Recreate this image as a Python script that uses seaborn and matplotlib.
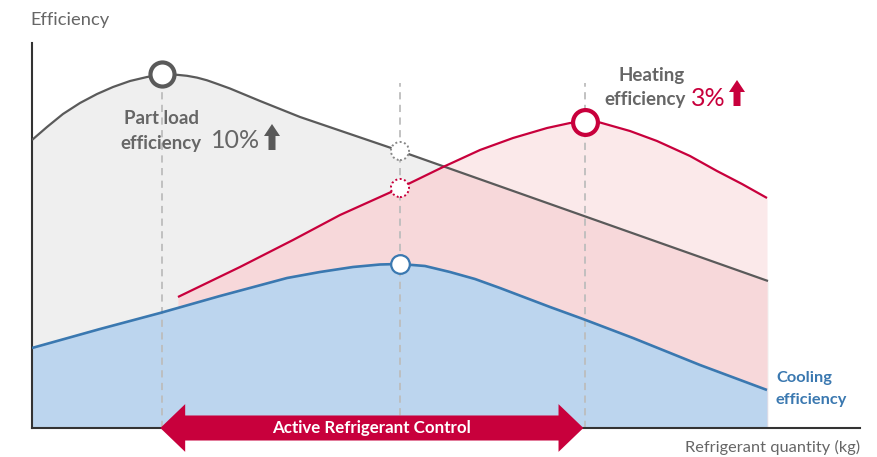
import numpy as np
import pandas as pd
import matplotlib
matplotlib.use("Agg")
import matplotlib.pyplot as plt
from matplotlib.patches import Polygon
import seaborn as sns

# ---------------- data (x: refrigerant quantity, y: efficiency, 0-100 scale) -------------
part_x = [0, 1.81, 3.74, 5.80, 7.85, 9.78, 11.84, 13.89, 15.70, 17.51, 18.72, 19.93, 21.14,
          22.34, 23.91, 27.54, 32.37, 38.41, 44.44, 88.89]
part_y = [74.81, 78.18, 81.56, 84.42, 86.75, 88.57, 90.13, 91.17, 91.82, 91.74, 91.48, 91.01,
          90.31, 89.40, 88.18, 84.94, 80.78, 76.36, 71.95, 38.18]

heat_x = [17.63, 25.12, 31.52, 37.20, 44.44, 49.64, 54.11, 58.09, 62.20, 64.98, 66.79, 68.60,
          72.22, 75.48, 79.47, 82.73, 85.75, 88.77]
heat_y = [34.03, 41.82, 48.83, 55.32, 62.34, 67.79, 72.21, 75.32, 77.92, 79.22, 79.48, 79.35,
          77.14, 74.55, 70.65, 66.75, 63.38, 59.74]

cool_x = [0, 8.21, 15.46, 22.71, 30.80, 34.78, 38.77, 42.03, 44.44, 47.46, 50.48, 53.50, 56.52,
          62.56, 66.55, 72.58, 80.68, 88.77]
cool_y = [20.78, 25.71, 29.87, 34.29, 38.96, 40.52, 41.82, 42.47, 42.60, 42.08, 40.52, 38.70,
          36.36, 31.43, 28.31, 23.38, 16.36, 9.87]

# highlighted points
peak_part = (15.70, 91.82)
peak_heat = (66.79, 79.48)
mid_x = 44.44
mid_part_y = 71.95
mid_heat_y = 62.34
mid_cool_y = 42.60
guide_top = 89.6

labels = {
    "ylabel": "Efficiency",
    "xlabel": "Refrigerant quantity (kg)",
    "part": ["Part load", "efficiency"],
    "part_pct": "10%",
    "heat": ["Heating", "efficiency"],
    "heat_pct": "3%",
    "cool": ["Cooling", "efficiency"],
    "arc": "Active Refrigerant Control",
}

# ---------------- colours ----------------
GRAY_LINE = "#5a5a5a"
GRAY_FILL = "#efefef"
RED = "#c8003c"
PINK_LIGHT = "#fbe9ea"
PINK_DARK = "#f7d8da"
BLUE_LINE = "#3a78b0"
BLUE_FILL = "#bcd5ee"
TEXT_GRAY = "#666666"
GUIDE = "#bdbdbd"

sns.set_theme(style="white")
plt.rcParams["font.family"] = ["Lato", "DejaVu Sans"]

W, H = 877, 457
fig = plt.figure(figsize=(W / 100, H / 100), dpi=100)
ax = fig.add_axes([32 / W, (H - 428) / H, (860 - 32) / W, (428 - 43) / H])
ax.set_xlim(0, 100)
ax.set_ylim(0, 100)


def fx(px):
    return px / W


def fy(py):
    return 1 - py / H


# ---------------- fills ----------------
ax.fill_between(part_x, part_y, 0, color=GRAY_FILL, lw=0, zorder=1)
ax.fill_between(heat_x, heat_y, 0, color=PINK_LIGHT, lw=0, zorder=1.1)
xs = np.linspace(heat_x[0], heat_x[-1], 800)
r = np.interp(xs, heat_x, heat_y)
g = np.interp(xs, part_x, part_y)
ax.fill_between(xs, np.minimum(r, g), 0, color=PINK_DARK, lw=0, zorder=1.2)
ax.fill_between(cool_x, cool_y, 0, color=BLUE_FILL, lw=0, zorder=1.3)

# ---------------- guide lines ----------------
ax.vlines(peak_part[0], 0, peak_part[1], color=GUIDE, lw=1.3, linestyles=(0, (4, 3)), zorder=2)
ax.vlines([mid_x, peak_heat[0]], 0, guide_top, color=GUIDE, lw=1.3, linestyles=(0, (4, 3)), zorder=2)

# ---------------- curves ----------------
df_p = pd.DataFrame({"x": part_x, "y": part_y})
df_h = pd.DataFrame({"x": heat_x, "y": heat_y})
df_c = pd.DataFrame({"x": cool_x, "y": cool_y})
kw = dict(solid_joinstyle="round", solid_capstyle="butt")
sns.lineplot(data=df_p, x="x", y="y", ax=ax, color=GRAY_LINE, lw=1.6, zorder=3, **kw)
sns.lineplot(data=df_h, x="x", y="y", ax=ax, color=RED, lw=1.6, zorder=3, **kw)
sns.lineplot(data=df_c, x="x", y="y", ax=ax, color=BLUE_LINE, lw=1.9, zorder=3, **kw)

# ---------------- markers ----------------
ax.scatter([peak_part[0]], [peak_part[1]], s=300, facecolor="white", edgecolor=GRAY_LINE, linewidth=3.0, zorder=4)
ax.scatter([peak_heat[0]], [peak_heat[1]], s=320, facecolor="white", edgecolor=RED, linewidth=3.0, zorder=4)
ax.scatter([mid_x], [mid_part_y], s=170, facecolor="white", edgecolor="#888888", linewidth=1.4,
           linestyle=(0, (1, 1.3)), zorder=4)
ax.scatter([mid_x], [mid_heat_y], s=170, facecolor="white", edgecolor=RED, linewidth=1.4,
           linestyle=(0, (1, 1.3)), zorder=4)
ax.scatter([mid_x], [mid_cool_y], s=180, facecolor="white", edgecolor=BLUE_LINE, linewidth=1.6, zorder=4)

# ---------------- double arrow ----------------
x0, x1 = peak_part[0] - 0.2, peak_heat[0] - 0.2
head_len, shaft_h, head_h = 3.0, 3.25, 6.2
arrow_pts = [
    (x0, 0), (x0 + head_len, head_h), (x0 + head_len, shaft_h), (x1 - head_len, shaft_h),
    (x1 - head_len, head_h), (x1, 0), (x1 - head_len, -head_h), (x1 - head_len, -shaft_h),
    (x0 + head_len, -shaft_h), (x0 + head_len, -head_h),
]
ax.add_patch(Polygon(arrow_pts, closed=True, facecolor=RED, edgecolor="none", clip_on=False, zorder=5))
ax.text((x0 + x1) / 2, 0, labels["arc"], ha="center", va="center", color="white",
        fontsize=12.2, fontweight="bold", zorder=6, clip_on=False)

# ---------------- axes styling ----------------
for s in ["top", "right"]:
    ax.spines[s].set_visible(False)
for s in ["left", "bottom"]:
    ax.spines[s].set_color("#333333")
    ax.spines[s].set_linewidth(1.5)
ax.set_xticks([])
ax.set_yticks([])
ax.set_xlabel("")
ax.set_ylabel("")

# ---------------- texts ----------------
fig.text(fx(30), fy(20), labels["ylabel"], ha="left", va="center", color=TEXT_GRAY, fontsize=13.2)
fig.text(fx(860), fy(447), labels["xlabel"], ha="right", va="center", color=TEXT_GRAY, fontsize=11.8)

fig.text(fx(161), fy(118), labels["part"][0], ha="center", va="center", color=TEXT_GRAY, fontsize=13.4, fontweight="bold")
fig.text(fx(161), fy(143), labels["part"][1], ha="center", va="center", color=TEXT_GRAY, fontsize=13.4, fontweight="bold")
fig.text(fx(211), fy(141), labels["part_pct"], ha="left", va="center", color=TEXT_GRAY, fontsize=18)

fig.text(fx(652), fy(75), labels["heat"][0], ha="center", va="center", color=TEXT_GRAY, fontsize=13.5, fontweight="bold")
fig.text(fx(645), fy(100), labels["heat"][1], ha="center", va="center", color=TEXT_GRAY, fontsize=13.5, fontweight="bold")
fig.text(fx(691), fy(98), labels["heat_pct"], ha="left", va="center", color=RED, fontsize=18)

fig.text(fx(776), fy(378), labels["cool"][0], ha="left", va="center", color=BLUE_LINE, fontsize=11.8, fontweight="bold")
fig.text(fx(776), fy(400), labels["cool"][1], ha="left", va="center", color=BLUE_LINE, fontsize=11.8, fontweight="bold")


def up_arrow(cx, top, bottom, color, head_w=16, head_h=12, shaft_w=7):
    pts = [
        (cx, top), (cx + head_w / 2, top + head_h), (cx + shaft_w / 2, top + head_h),
        (cx + shaft_w / 2, bottom), (cx - shaft_w / 2, bottom), (cx - shaft_w / 2, top + head_h),
        (cx - head_w / 2, top + head_h),
    ]
    fig.patches.append(Polygon([(fx(a), fy(b)) for a, b in pts], closed=True,
                               transform=fig.transFigure, facecolor=color, edgecolor="none"))


up_arrow(272, 124, 150, "#595959")
up_arrow(737, 80, 106, RED)

fig.savefig("out.png", dpi=100)
